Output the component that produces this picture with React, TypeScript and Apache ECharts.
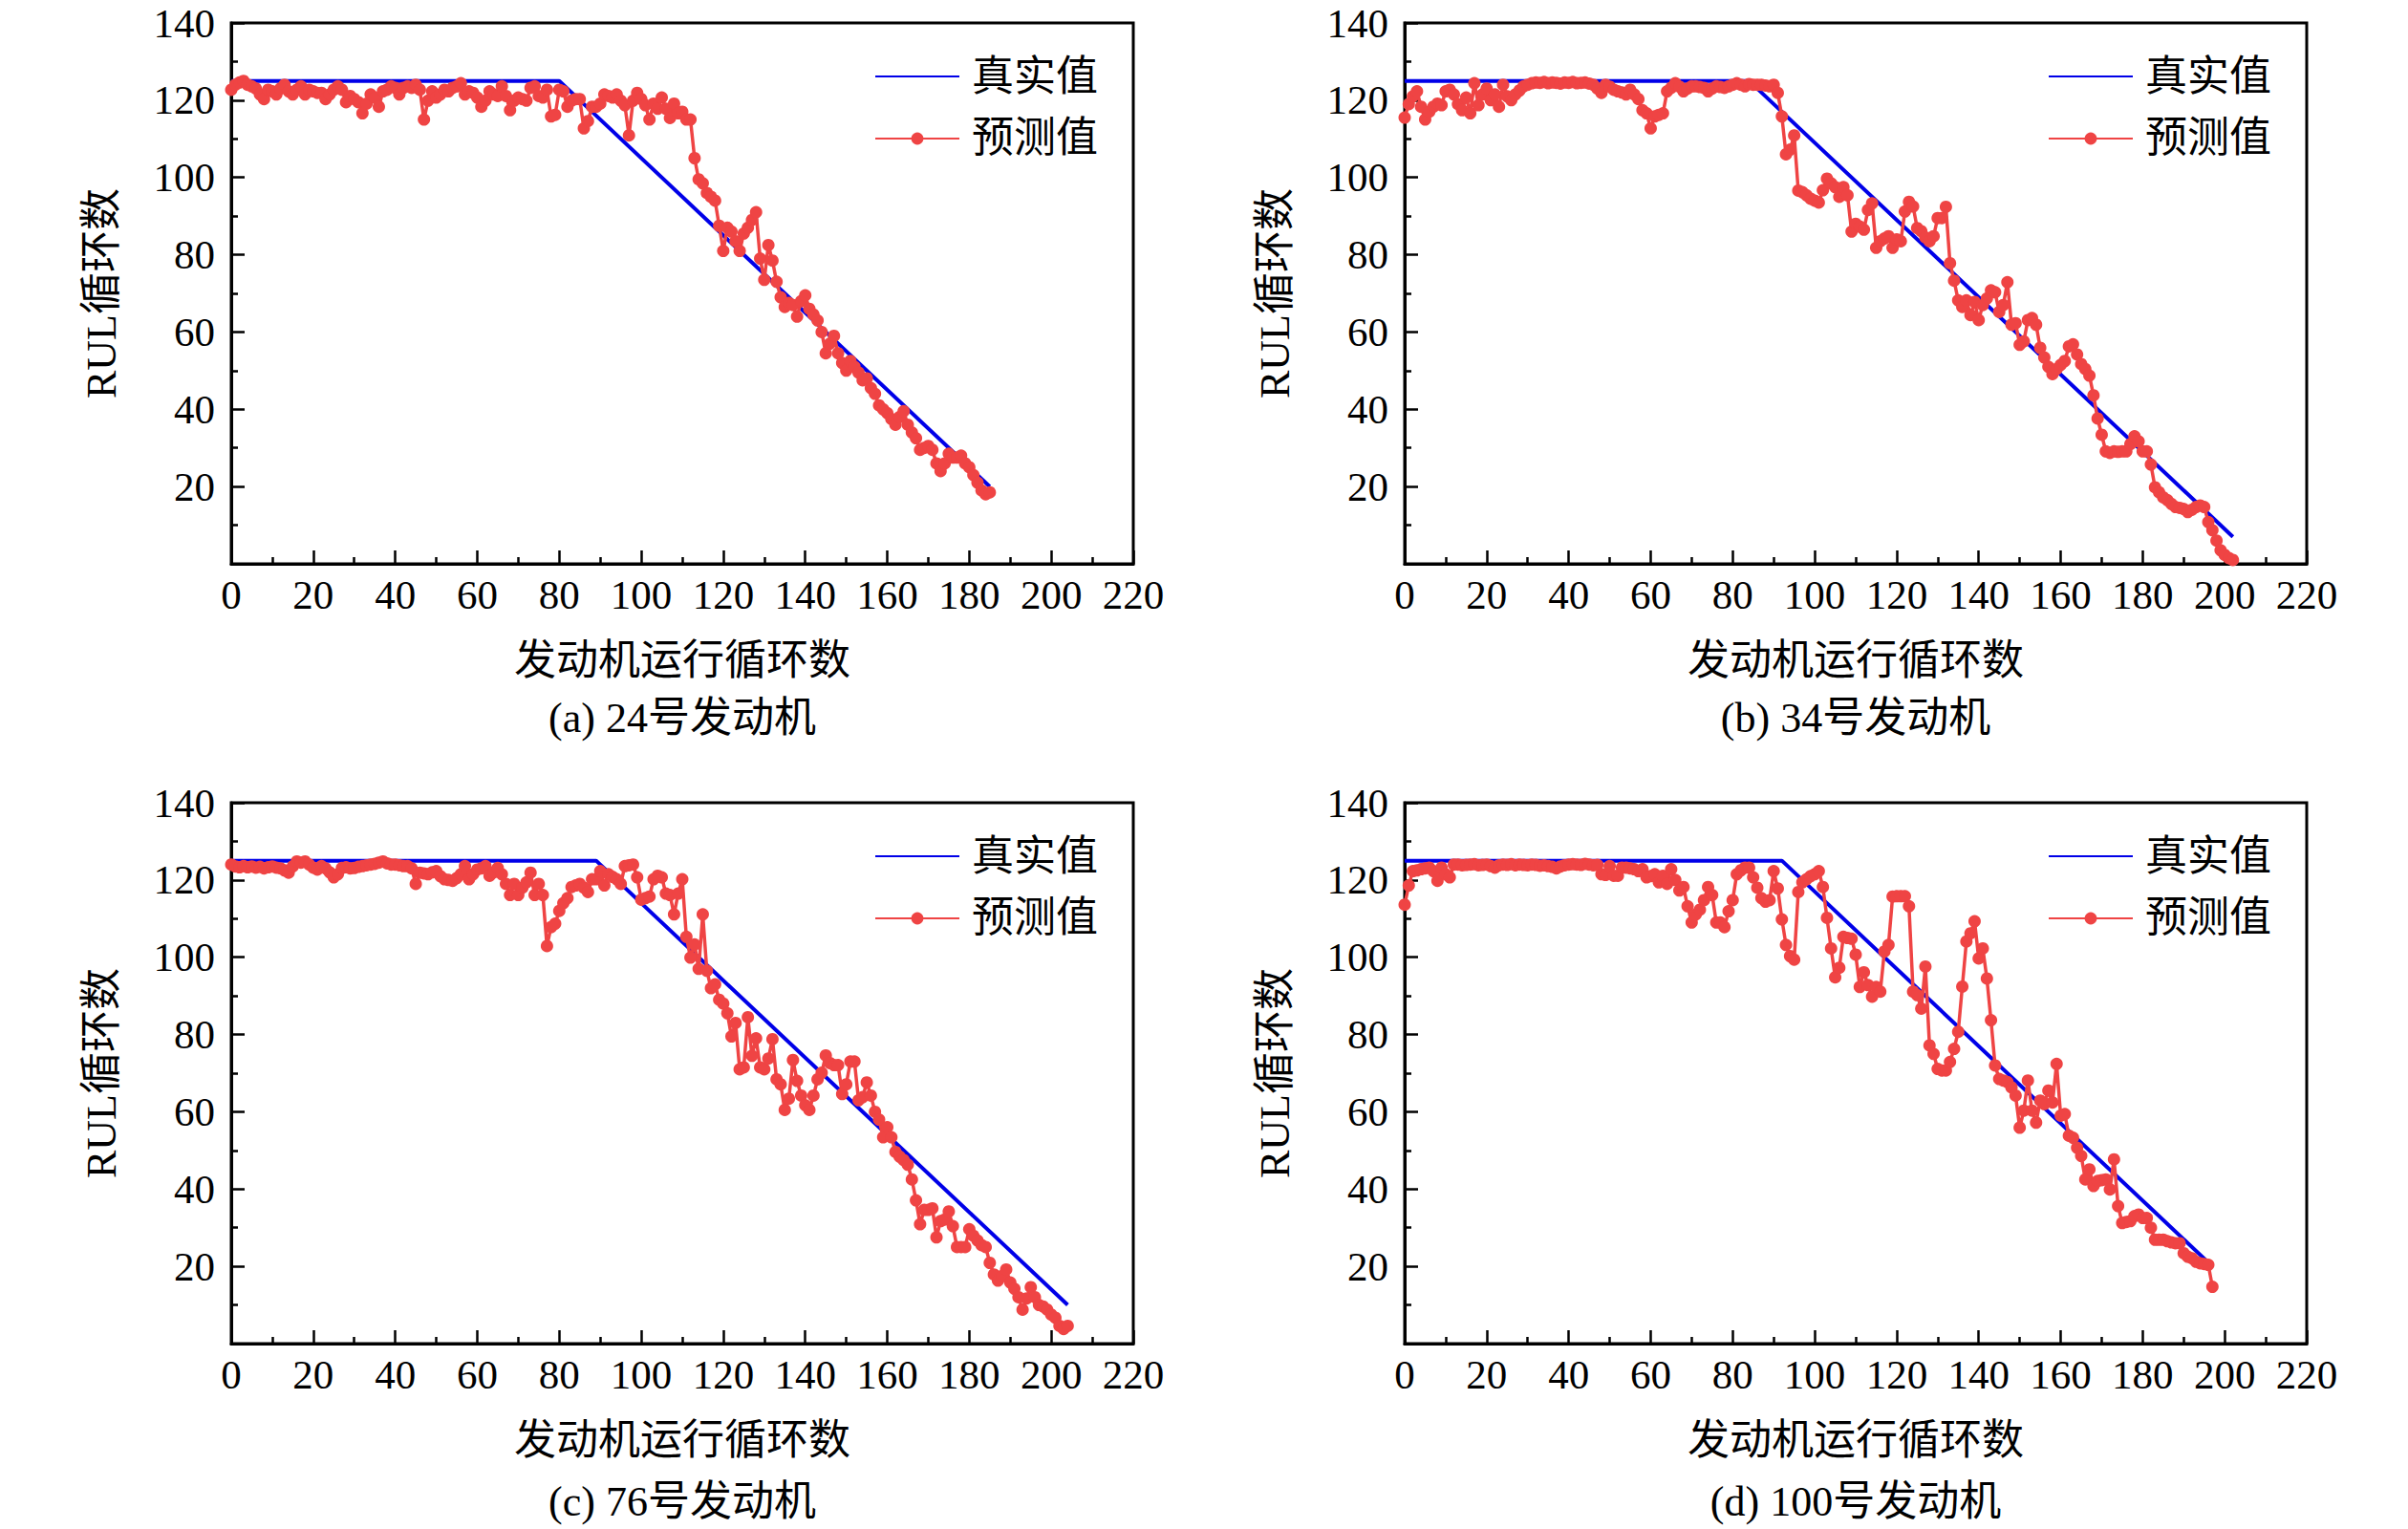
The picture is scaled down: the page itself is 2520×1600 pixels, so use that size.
import { useEffect, useRef } from 'react';
import * as echarts from 'echarts';

// 四台测试发动机：真实 RUL 折线的拐点、末周期与末周期 RUL
const engineTitles = ['(a) 24号发动机', '(b) 34号发动机', '(c) 76号发动机', '(d) 100号发动机'];
const rulCap = 125;
const kneeCycles = [80, 84, 89, 92];
const lastCycles = [185, 202, 204, 197];
const lastRuls = [20, 7, 10, 20];
const seriesNames = ['真实值', '预测值'];

// 预测 RUL，按运行周期 0,1,2,... 读取
const pred24 = [
  122.7, 124, 124.6, 125, 124, 123.6, 123, 121.5, 120.3, 122.7,
  122.3, 121.5, 123, 124, 122.3, 121.5, 122.7, 123.6, 121.5, 122.7,
  122.3, 121.9, 121.9, 120.3, 121.5, 122.7, 123.6, 122.7, 119.5, 121.1,
  120.3, 119.5, 116.6, 119.1, 121.5, 120.7, 118.3, 122.3, 122.7, 123.6,
  123.2, 121.5, 123.2, 123.6, 123.2, 124, 122.7, 115, 119.9, 122.3,
  120.7, 121.5, 122.7, 122.3, 123.2, 123.6, 124.4, 121.5, 122.3, 121.9,
  120.7, 118.3, 119.9, 122.3, 121.5, 121.1, 123.6, 121.1, 117.4, 119.9,
  120.7, 120.3, 119.9, 123.2, 123.6, 121.1, 120.7, 122.7, 115.8, 116.2,
  122.7, 122.3, 118.3, 119.9, 120.3, 120.3, 112.7, 114.6, 118.3, 118.3,
  119.1, 121.5, 121.1, 120.7, 121.5, 119.9, 118.7, 110.9, 119.9, 121.9,
  120.3, 118.7, 115, 119.1, 117.8, 120.7, 117.8, 115.4, 119.1, 116.6,
  117, 115, 115, 105, 99.5, 98.5, 96, 95, 94, 87.5,
  81, 87, 86, 83.5, 81, 85.5, 87, 89, 91, 79,
  73.5, 82.5, 78.5, 73, 69, 66.5, 67.5, 67, 64, 68,
  69.5, 66, 64.5, 63, 60, 54.5, 57, 59, 54.5, 52,
  50, 52.5, 51, 49.5, 47.5, 48, 45.5, 44, 41, 40,
  39, 37.5, 36, 38, 39.5, 36, 34, 32.5, 29.5, 30,
  30.5, 29.5, 26, 24, 26, 28.5, 27.5, 27.5, 28, 26,
  25, 23, 21, 19, 18, 18.5,
];

const pred34 = [
  115.5, 119, 121, 122.3, 118.3, 115, 117, 118.3, 119.1, 118.7,
  122.3, 122.7, 121.5, 119, 117.4, 120.7, 116.6, 124.4, 118.7, 121.5,
  123, 120, 121.5, 118.3, 124, 121, 120, 121.5, 122.5, 123.6,
  124, 124.4, 124.6, 124.5, 124.7, 124.4, 124.6, 124.5, 124.3, 124.6,
  124.5, 124.7, 124.4, 124.5, 124.6, 124.3, 124, 123, 121.9, 124,
  123.5, 122.7, 122.3, 122, 121.5, 122.7, 121.5, 120.3, 117.4, 116.6,
  112.7, 115.8, 116.2, 116.6, 122.3, 123.2, 124.4, 123.5, 122.3, 123,
  123.6, 123.6, 123.4, 123.2, 122.3, 123, 123.6, 123.4, 123.2, 123.6,
  124, 124.4, 124, 123.6, 124.2, 124, 124, 124, 123.8, 123.6,
  124, 121.9, 115.8, 106, 107.2, 110.9, 96.6, 96.2, 95.4, 94.5,
  94, 93.5, 96.7, 99.7, 98.5, 97.5, 95, 97.5, 95.4, 86,
  88, 87.3, 86.5, 91.6, 93.3, 81.8, 83.5, 84.2, 84.8, 81.8,
  84, 83.5, 91.2, 93.7, 92.5, 86.9, 86.1, 84.5, 83.5, 84.8,
  89.5, 89.5, 92.4, 77.8, 73.3, 68.2, 66.5, 68.2, 64.4, 67.8,
  63.1, 67, 68.7, 70.8, 70.3, 65.2, 67, 72.9, 61.9, 62.3,
  56.7, 57.6, 63.1, 63.6, 61.9, 55.9, 53.4, 51, 49.1, 50.4,
  51.5, 52.5, 56.3, 56.8, 54.2, 51.7, 50.4, 48.7, 43.6, 37.6,
  33.4, 29.1, 28.7, 29.1, 29, 29.1, 29.1, 31, 33, 31.7,
  29.1, 29.1, 25.7, 19.8, 18.5, 17.2, 16.5, 15.5, 14.7, 14.5,
  14.2, 13.4, 14, 14.7, 15.1, 14.7, 10.8, 8.7, 6, 3.5,
  2.3, 1.5, 1,
];

const pred76 = [
  124, 123.5, 123.3, 123.6, 123.3, 123.5, 123.2, 123.4, 123, 123.3,
  123.5, 123.2, 123, 122.5, 121.9, 123.5, 124.8, 124.5, 124.8, 124,
  123.2, 122.7, 123.6, 123, 122, 120.7, 121.5, 123.1, 123.3, 123,
  123.1, 123.4, 123.6, 123.8, 124, 124.2, 124.5, 124.8, 124.3, 124,
  124, 123.8, 123.6, 123.6, 123, 119, 121.9, 121.7, 121.5, 122,
  122.3, 121, 120.2, 120, 119.8, 120.5, 121.5, 123.6, 120.2, 121.5,
  122.7, 123, 123.6, 121.1, 122, 123.1, 121.5, 119, 116.1, 119,
  116.1, 118, 119.4, 121.9, 116.1, 119, 116.1, 102.9, 107.8, 108.7,
  112, 114, 115.3, 118.2, 118.6, 119, 118, 116.9, 120.2, 120.2,
  122.3, 118.6, 121.5, 120.8, 120.2, 119, 123.6, 123.8, 124, 120.7,
  114.9, 115.3, 115.7, 120.2, 121.1, 120.7, 116.5, 116.1, 111.1, 116.5,
  120.2, 105.3, 99.9, 103.3, 97, 111.1, 96.5, 92, 93, 89,
  88, 85.5, 79.5, 83, 71, 71.5, 84.5, 74.5, 79, 71.5,
  71, 73.8, 78.8, 68.4, 67.1, 60.5, 63.4, 73.4, 68, 64.2,
  61.7, 60.5, 64.2, 68.4, 70.1, 74.6, 72.6, 72.1, 72.1, 64.6,
  67.1, 73, 73, 63, 63.8, 67.6, 64.2, 60, 58, 53.4,
  56, 53.4, 49.6, 48.4, 47.5, 46.3, 42.5, 37.1, 30.9, 34.6,
  34.6, 35, 27.5, 31.7, 32.1, 34.2, 30.4, 25, 25, 25,
  29.6, 27.9, 26.7, 25.5, 25, 20.9, 17.9, 16.3, 17.5, 19.2,
  15.8, 14.2, 12, 8.8, 11.7, 14.6, 12, 10, 9.6, 8.8,
  7.5, 6.7, 4.6, 3.8, 4.6,
];

const pred100 = [
  113.6, 118.6, 122.3, 122.5, 122.8, 123, 123.2, 122.3, 119.8, 123.2,
  121.5, 120.7, 124, 124, 123.8, 123.9, 124, 124.1, 123.8, 123.9,
  124, 123.6, 123.2, 123.8, 124, 123.9, 124.1, 123.8, 124, 123.9,
  123.8, 124, 123.9, 123.7, 123.8, 123.6, 123.4, 123, 123.5, 123.8,
  124, 124.1, 124, 123.9, 124.2, 124, 123.8, 123.9, 121.5, 121.3,
  123.6, 121.1, 121.1, 123.2, 123.2, 123, 122.8, 122.3, 122.8, 120.7,
  121, 121.5, 119.4, 121.1, 119, 122.8, 120, 117.3, 118.2, 113.2,
  109, 111.1, 112.3, 114.8, 118.2, 116.1, 109, 109, 107.8, 111.9,
  114.8, 121.5, 122.5, 123.2, 123.2, 120.7, 118, 115.3, 114.4, 114.8,
  122.3, 117.8, 109.8, 103.2, 100.3, 99.4, 116.9, 119.4, 120.2, 121,
  121.5, 122.3, 118.2, 110.2, 102.3, 94.8, 97.3, 105.3, 105, 104.8,
  100.7, 92.3, 96.1, 92.8, 89.8, 92.3, 91.1, 101.5, 103.2, 115.7,
  115.8, 115.8, 115.8, 113.2, 91.1, 90.2, 86.7, 97.6, 77.2, 75,
  71.1, 70.7, 70.7, 72.9, 76.3, 80.7, 92.4, 104.1, 106.2, 109.3,
  99.7, 102.3, 94.5, 83.7, 72, 68.5, 68.1, 67.7, 66.3, 64.2,
  55.9, 60.3, 68.1, 60.3, 57.2, 62.9, 62, 65.5, 62.4, 72.4,
  59, 59.4, 53.8, 53.3, 50.7, 48.6, 42.5, 45.1, 40.8, 42.1,
  42.3, 42.5, 39.9, 47.7, 35.6, 31.2, 31.5, 31.7, 33, 33.4,
  32.5, 32.5, 30, 26.9, 26.9, 26.9, 26.5, 26.2, 26, 26,
  23.4, 22.5, 22.1, 21.2, 20.8, 20.6, 20.4, 14.7,
];

const predictions = [pred24, pred34, pred76, pred100];

const FONT = '"Liberation Serif", "Times New Roman", "Noto Sans CJK SC", serif';
const BLUE = '#0000e8';
const RED = '#ef4444';

const gridLefts = [242, 1470, 242, 1470];
const gridTops = [24, 24, 840, 840];
const titleOffsets = [727, 727, 731, 731];
const GRID_W = 944;
const GRID_H = 566;

export default function App() {
  const chartRef = useRef<HTMLDivElement>(null);

  useEffect(() => {
    if (!chartRef.current) return;
    const chart = echarts.init(chartRef.current, null, { renderer: 'svg' });

    const tickStyle = { color: '#000', width: 2.5 };

    const option = {
      animation: false,
      backgroundColor: '#fff',
      grid: gridLefts.map((left, i) => ({
        left,
        top: gridTops[i],
        width: GRID_W,
        height: GRID_H,
        show: true,
        borderColor: '#000',
        borderWidth: 3,
        backgroundColor: 'transparent',
      })),
      xAxis: gridLefts.map((_, i) => ({
        type: 'value',
        gridIndex: i,
        min: 0,
        max: 220,
        interval: 20,
        name: '发动机运行循环数',
        nameLocation: 'middle',
        nameGap: 79,
        nameTextStyle: { fontSize: 44, fontFamily: FONT, color: '#000' },
        axisLine: { show: true, onZero: false, lineStyle: { color: '#000', width: 3 } },
        axisTick: { show: true, inside: true, length: 14, lineStyle: tickStyle },
        minorTick: { show: true, splitNumber: 2, length: 7, lineStyle: tickStyle },
        axisLabel: {
          fontSize: 43,
          fontFamily: FONT,
          color: '#000',
          margin: 11,
          showMinLabel: true,
          showMaxLabel: true,
        },
        splitLine: { show: false },
        minorSplitLine: { show: false },
      })),
      yAxis: gridLefts.map((_, i) => ({
        type: 'value',
        gridIndex: i,
        min: 0,
        max: 140,
        interval: 20,
        name: 'RUL循环数',
        nameLocation: 'middle',
        nameGap: 114,
        nameRotate: 90,
        nameTextStyle: { fontSize: 44, fontFamily: FONT, color: '#000' },
        axisLine: { show: true, onZero: false, lineStyle: { color: '#000', width: 3 } },
        axisTick: { show: true, inside: true, length: 14, lineStyle: tickStyle },
        minorTick: { show: true, splitNumber: 2, length: 7, lineStyle: tickStyle },
        axisLabel: {
          fontSize: 43,
          fontFamily: FONT,
          color: '#000',
          margin: 17,
          formatter: (v: number) => (v === 0 ? '' : String(v)),
        },
        splitLine: { show: false },
        minorSplitLine: { show: false },
      })),
      legend: gridLefts.map((left, i) => ({
        orient: 'vertical',
        left: left + 673,
        top: gridTops[i] + 34,
        padding: 0,
        itemWidth: 88,
        itemHeight: 16,
        itemGap: 21,
        selectedMode: false,
        data: [{ name: seriesNames[0], itemStyle: { opacity: 0 } }, seriesNames[1]],
        textStyle: { fontSize: 44, fontFamily: FONT, color: '#000', padding: [0, 0, 0, 8] },
      })),
      graphic: engineTitles.map((text, i) => ({
        type: 'text',
        x: gridLefts[i] + GRID_W / 2,
        y: gridTops[i] + titleOffsets[i],
        style: {
          text,
          font: `44px ${FONT}`,
          fill: '#000',
          align: 'center',
          verticalAlign: 'middle',
          textAlign: 'center',
          textVerticalAlign: 'middle',
        },
      })),
      series: predictions.flatMap((pred, i) => [
        {
          name: seriesNames[0],
          type: 'line',
          xAxisIndex: i,
          yAxisIndex: i,
          symbol: 'none',
          z: 2,
          lineStyle: { color: BLUE, width: 4 },
          itemStyle: { color: BLUE },
          data: [
            [0, rulCap],
            [kneeCycles[i], rulCap],
            [lastCycles[i], lastRuls[i]],
          ],
        },
        {
          name: seriesNames[1],
          type: 'line',
          xAxisIndex: i,
          yAxisIndex: i,
          symbol: 'circle',
          symbolSize: 13,
          showSymbol: true,
          z: 3,
          lineStyle: { color: RED, width: 3.5 },
          itemStyle: { color: RED },
          data: pred.map((v, cycle) => [cycle, v]),
        },
      ]),
    };

    chart.setOption(option);
    return () => {
      chart.dispose();
    };
  }, []);

  return (
    <div
      ref={chartRef}
      style={{ position: 'absolute', left: 0, top: 0, width: '2520px', height: '1600px' }}
    />
  );
}
